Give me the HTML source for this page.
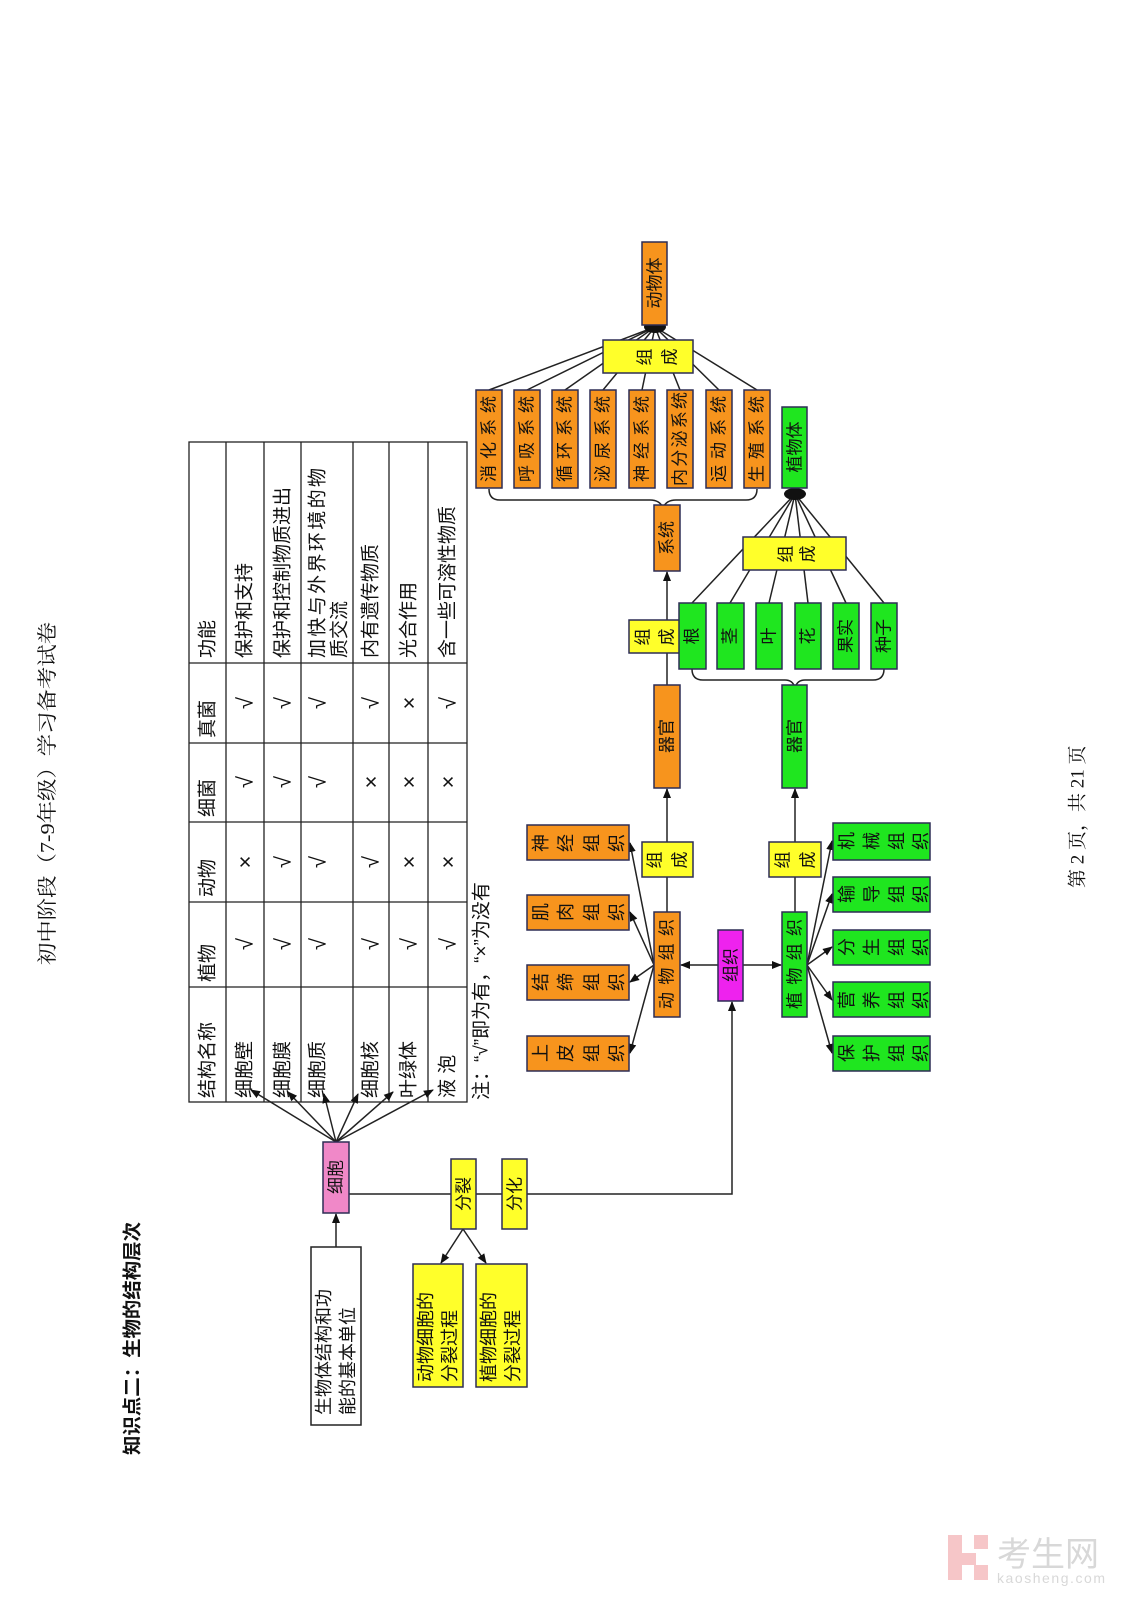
<!DOCTYPE html>
<html><head><meta charset="utf-8">
<style>
html,body{margin:0;padding:0;background:#fff;}
svg{display:block;}
text{font-family:"Liberation Sans","Noto Sans CJK SC",sans-serif;fill:#111;}
.s{font-family:"Liberation Serif","Noto Serif CJK SC",serif;}
</style></head>
<body>
<svg width="1131" height="1600" viewBox="0 0 1131 1600" xmlns="http://www.w3.org/2000/svg">
<defs>
<marker id="a" markerWidth="10" markerHeight="10" refX="9" refY="5" orient="auto" markerUnits="userSpaceOnUse">
<path d="M0,1 L10,5 L0,9 z" fill="#111"/>
</marker>
</defs>

<text class="s" font-size="20" transform="translate(48,965) rotate(-90)" dominant-baseline="central" textLength="343" lengthAdjust="spacingAndGlyphs">初中阶段（7-9年级）学习备考试卷</text>
<text font-size="19" font-weight="bold" transform="translate(133,1455) rotate(-90)" dominant-baseline="central" textLength="233" lengthAdjust="spacingAndGlyphs">知识点二：生物的结构层次</text>
<text class="s" font-size="19" transform="translate(1078,888) rotate(-90)" dominant-baseline="central">第 2 页，共 21 页</text>

<g stroke="#222" stroke-width="1.3" fill="none">
<rect x="189" y="442" width="278" height="660"/>
<line x1="226" y1="442" x2="226" y2="1102"/>
<line x1="264" y1="442" x2="264" y2="1102"/>
<line x1="301" y1="442" x2="301" y2="1102"/>
<line x1="353" y1="442" x2="353" y2="1102"/>
<line x1="389" y1="442" x2="389" y2="1102"/>
<line x1="428" y1="442" x2="428" y2="1102"/>
<line x1="189" y1="663" x2="467" y2="663"/>
<line x1="189" y1="743" x2="467" y2="743"/>
<line x1="189" y1="822" x2="467" y2="822"/>
<line x1="189" y1="902" x2="467" y2="902"/>
<line x1="189" y1="987" x2="467" y2="987"/>
</g>
<g font-size="19" dominant-baseline="central">
<text transform="translate(208,1098) rotate(-90)">结构名称</text>
<text transform="translate(208,982) rotate(-90)">植物</text>
<text transform="translate(208,897) rotate(-90)">动物</text>
<text transform="translate(208,817) rotate(-90)">细菌</text>
<text transform="translate(208,738) rotate(-90)">真菌</text>
<text transform="translate(208,658) rotate(-90)">功能</text>
<text transform="translate(245,1098) rotate(-90)">细胞壁</text>
<text transform="translate(283,1098) rotate(-90)">细胞膜</text>
<text transform="translate(318,1098) rotate(-90)">细胞质</text>
<text transform="translate(371,1098) rotate(-90)">细胞核</text>
<text transform="translate(409,1098) rotate(-90)">叶绿体</text>
<text transform="translate(448,1098) rotate(-90)">液 泡</text>
<text transform="translate(245,658) rotate(-90)">保护和支持</text>
<text transform="translate(283,658) rotate(-90)">保护和控制物质进出</text>
<text transform="translate(318,658) rotate(-90)" textLength="190" lengthAdjust="spacing">加快与外界环境的物</text>
<text transform="translate(340,658) rotate(-90)">质交流</text>
<text transform="translate(371,658) rotate(-90)">内有遗传物质</text>
<text transform="translate(409,658) rotate(-90)">光合作用</text>
<text transform="translate(448,658) rotate(-90)">含一些可溶性物质</text>
</g>
<g font-size="22" text-anchor="middle" dominant-baseline="central">
<text transform="translate(245,944) rotate(-90)">√</text>
<text transform="translate(283,944) rotate(-90)">√</text>
<text transform="translate(318,944) rotate(-90)">√</text>
<text transform="translate(371,944) rotate(-90)">√</text>
<text transform="translate(409,944) rotate(-90)">√</text>
<text transform="translate(448,944) rotate(-90)">√</text>
<text transform="translate(245,862) rotate(-90)">×</text>
<text transform="translate(283,862) rotate(-90)">√</text>
<text transform="translate(318,862) rotate(-90)">√</text>
<text transform="translate(371,862) rotate(-90)">√</text>
<text transform="translate(409,862) rotate(-90)">×</text>
<text transform="translate(448,862) rotate(-90)">×</text>
<text transform="translate(245,782) rotate(-90)">√</text>
<text transform="translate(283,782) rotate(-90)">√</text>
<text transform="translate(318,782) rotate(-90)">√</text>
<text transform="translate(371,782) rotate(-90)">×</text>
<text transform="translate(409,782) rotate(-90)">×</text>
<text transform="translate(448,782) rotate(-90)">×</text>
<text transform="translate(245,703) rotate(-90)">√</text>
<text transform="translate(283,703) rotate(-90)">√</text>
<text transform="translate(318,703) rotate(-90)">√</text>
<text transform="translate(371,703) rotate(-90)">√</text>
<text transform="translate(409,703) rotate(-90)">×</text>
<text transform="translate(448,703) rotate(-90)">√</text>
</g>
<text font-size="19" transform="translate(482,1100) rotate(-90)" dominant-baseline="central">注：“√”即为有，“×”为没有</text>

<g stroke="#222" stroke-width="1.5" fill="none">
<line x1="336" y1="1142" x2="251" y2="1090" marker-end="url(#a)"/>
<line x1="336" y1="1142" x2="288" y2="1092" marker-end="url(#a)"/>
<line x1="336" y1="1142" x2="324" y2="1094" marker-end="url(#a)"/>
<line x1="336" y1="1142" x2="358" y2="1094" marker-end="url(#a)"/>
<line x1="336" y1="1142" x2="393" y2="1092" marker-end="url(#a)"/>
<line x1="336" y1="1142" x2="433" y2="1090" marker-end="url(#a)"/>
<line x1="336" y1="1247" x2="336" y2="1214" marker-end="url(#a)"/>
<polyline points="349,1194 732,1194 732,1002" marker-end="url(#a)"/>
<line x1="463" y1="1229" x2="441" y2="1263" marker-end="url(#a)"/>
<line x1="463" y1="1229" x2="486" y2="1263" marker-end="url(#a)"/>
<line x1="718" y1="965" x2="681" y2="965" marker-end="url(#a)"/>
<line x1="743" y1="965" x2="781" y2="965" marker-end="url(#a)"/>
<line x1="654" y1="965" x2="630" y2="843" marker-end="url(#a)"/>
<line x1="654" y1="965" x2="630" y2="912" marker-end="url(#a)"/>
<line x1="654" y1="965" x2="630" y2="982" marker-end="url(#a)"/>
<line x1="654" y1="965" x2="630" y2="1053" marker-end="url(#a)"/>
<line x1="807" y1="965" x2="832" y2="841" marker-end="url(#a)"/>
<line x1="807" y1="965" x2="832" y2="894" marker-end="url(#a)"/>
<line x1="807" y1="965" x2="832" y2="947" marker-end="url(#a)"/>
<line x1="807" y1="965" x2="832" y2="1000" marker-end="url(#a)"/>
<line x1="807" y1="965" x2="832" y2="1053" marker-end="url(#a)"/>
<line x1="667" y1="912" x2="667" y2="789" marker-end="url(#a)"/>
<line x1="795" y1="912" x2="795" y2="789" marker-end="url(#a)"/>
<line x1="667" y1="685" x2="667" y2="572" marker-end="url(#a)"/>
<line x1="489" y1="390" x2="655" y2="327"/>
<line x1="527" y1="390" x2="655" y2="327"/>
<line x1="565" y1="390" x2="655" y2="327"/>
<line x1="603" y1="390" x2="655" y2="327"/>
<line x1="642" y1="390" x2="655" y2="327"/>
<line x1="680" y1="390" x2="655" y2="327"/>
<line x1="719" y1="390" x2="655" y2="327"/>
<line x1="757" y1="390" x2="655" y2="327"/>
<line x1="692" y1="603" x2="795" y2="494"/>
<line x1="730" y1="603" x2="795" y2="494"/>
<line x1="769" y1="603" x2="795" y2="494"/>
<line x1="808" y1="603" x2="795" y2="494"/>
<line x1="846" y1="603" x2="795" y2="494"/>
<line x1="884" y1="603" x2="795" y2="494"/>
<path d="M489,489 Q489,500 500,500 L650,500 Q660,500 663,508 Q666,500 676,500 L746,500 Q757,500 757,489"/>
<path d="M692,669 Q692,680 703,680 L785,680 Q793,680 795,688 Q797,680 805,680 L873,680 Q884,680 884,669"/>
</g>
<ellipse cx="655" cy="327" rx="11" ry="6" fill="#111"/>
<ellipse cx="795" cy="494" rx="11" ry="6" fill="#111"/>

<g stroke="#2d2d55" stroke-width="1.5">
<rect x="642" y="242" width="25" height="83" fill="#f7941d"/>
<rect x="603" y="340" width="90" height="33" fill="#ffff2a"/>
<rect x="476" y="390" width="26" height="98" fill="#f7941d"/>
<rect x="514" y="390" width="26" height="98" fill="#f7941d"/>
<rect x="552" y="390" width="26" height="98" fill="#f7941d"/>
<rect x="590" y="390" width="26" height="98" fill="#f7941d"/>
<rect x="629" y="390" width="26" height="98" fill="#f7941d"/>
<rect x="667" y="390" width="26" height="98" fill="#f7941d"/>
<rect x="706" y="390" width="26" height="98" fill="#f7941d"/>
<rect x="744" y="390" width="26" height="98" fill="#f7941d"/>
<rect x="782" y="407" width="25" height="81" fill="#1fe61f"/>
<rect x="654" y="505" width="26" height="66" fill="#f7941d"/>
<rect x="743" y="537" width="103" height="33" fill="#ffff2a"/>
<rect x="629" y="620" width="51" height="33" fill="#ffff2a"/>
<rect x="679" y="603" width="27" height="66" fill="#1fe61f"/>
<rect x="717" y="603" width="27" height="66" fill="#1fe61f"/>
<rect x="756" y="603" width="26" height="66" fill="#1fe61f"/>
<rect x="795" y="603" width="26" height="66" fill="#1fe61f"/>
<rect x="833" y="603" width="26" height="66" fill="#1fe61f"/>
<rect x="871" y="603" width="26" height="66" fill="#1fe61f"/>
<rect x="654" y="685" width="26" height="103" fill="#f7941d"/>
<rect x="782" y="685" width="25" height="103" fill="#1fe61f"/>
<rect x="642" y="842" width="51" height="35" fill="#ffff2a"/>
<rect x="769" y="842" width="52" height="35" fill="#ffff2a"/>
<rect x="527" y="825" width="102" height="35" fill="#f7941d"/>
<rect x="527" y="895" width="102" height="35" fill="#f7941d"/>
<rect x="527" y="965" width="102" height="35" fill="#f7941d"/>
<rect x="527" y="1036" width="102" height="35" fill="#f7941d"/>
<rect x="654" y="912" width="26" height="105" fill="#f7941d"/>
<rect x="718" y="930" width="25" height="71" fill="#ee22ee"/>
<rect x="782" y="912" width="25" height="105" fill="#1fe61f"/>
<rect x="833" y="823" width="97" height="37" fill="#1fe61f"/>
<rect x="833" y="877" width="97" height="35" fill="#1fe61f"/>
<rect x="833" y="930" width="97" height="35" fill="#1fe61f"/>
<rect x="833" y="982" width="97" height="35" fill="#1fe61f"/>
<rect x="833" y="1036" width="97" height="35" fill="#1fe61f"/>
<rect x="323" y="1142" width="26" height="71" fill="#f088c8"/>
<rect x="451" y="1159" width="25" height="70" fill="#ffff2a"/>
<rect x="502" y="1159" width="25" height="70" fill="#ffff2a"/>
<rect x="311" y="1247" width="50" height="178" fill="#fff" stroke="#222"/>
<rect x="413" y="1264" width="50" height="123" fill="#ffff2a"/>
<rect x="476" y="1264" width="51" height="123" fill="#ffff2a"/>
</g>

<g font-size="17" text-anchor="middle" dominant-baseline="central">
<text transform="translate(655,283) rotate(-90)">动物体</text>
<text transform="translate(489,439) rotate(-90)" textLength="86" lengthAdjust="spacing">消化系统</text>
<text transform="translate(527,439) rotate(-90)" textLength="86" lengthAdjust="spacing">呼吸系统</text>
<text transform="translate(565,439) rotate(-90)" textLength="86" lengthAdjust="spacing">循环系统</text>
<text transform="translate(603,439) rotate(-90)" textLength="86" lengthAdjust="spacing">泌尿系统</text>
<text transform="translate(642,439) rotate(-90)" textLength="86" lengthAdjust="spacing">神经系统</text>
<text transform="translate(680,439) rotate(-90)" textLength="94" lengthAdjust="spacing">内分泌系统</text>
<text transform="translate(719,439) rotate(-90)" textLength="86" lengthAdjust="spacing">运动系统</text>
<text transform="translate(757,439) rotate(-90)" textLength="86" lengthAdjust="spacing">生殖系统</text>
<text transform="translate(795,447) rotate(-90)">植物体</text>
<text transform="translate(667,538) rotate(-90)">系统</text>
<text transform="translate(692,636) rotate(-90)">根</text>
<text transform="translate(730,636) rotate(-90)">茎</text>
<text transform="translate(769,636) rotate(-90)">叶</text>
<text transform="translate(808,636) rotate(-90)">花</text>
<text transform="translate(846,636) rotate(-90)">果实</text>
<text transform="translate(884,636) rotate(-90)">种子</text>
<text transform="translate(667,736) rotate(-90)">器官</text>
<text transform="translate(795,736) rotate(-90)">器官</text>
<text transform="translate(667,964) rotate(-90)" textLength="90" lengthAdjust="spacing">动物组织</text>
<text transform="translate(731,965) rotate(-90)">组织</text>
<text transform="translate(795,964) rotate(-90)" textLength="90" lengthAdjust="spacing">植物组织</text>
<text transform="translate(336,1177) rotate(-90)">细胞</text>
<text transform="translate(464,1194) rotate(-90)">分裂</text>
<text transform="translate(515,1194) rotate(-90)">分化</text>
<text font-size="18" transform="translate(324,1415) rotate(-90)" text-anchor="start">生物体结构和功</text>
<text font-size="18" transform="translate(348,1415) rotate(-90)" text-anchor="start">能的基本单位</text>
<text font-size="18" transform="translate(426,1382) rotate(-90)" text-anchor="start">动物细胞的</text>
<text font-size="18" transform="translate(450,1382) rotate(-90)" text-anchor="start">分裂过程</text>
<text font-size="18" transform="translate(489,1382) rotate(-90)" text-anchor="start">植物细胞的</text>
<text font-size="18" transform="translate(513,1382) rotate(-90)" text-anchor="start">分裂过程</text>
<text transform="translate(645,357) rotate(-90)">组</text>
<text transform="translate(670,357) rotate(-90)">成</text>
<text transform="translate(786,554) rotate(-90)">组</text>
<text transform="translate(808,554) rotate(-90)">成</text>
<text transform="translate(643,637) rotate(-90)">组</text>
<text transform="translate(667,637) rotate(-90)">成</text>
<text transform="translate(655,860) rotate(-90)">组</text>
<text transform="translate(680,860) rotate(-90)">成</text>
<text transform="translate(783,860) rotate(-90)">组</text>
<text transform="translate(808,860) rotate(-90)">成</text>
</g>
<g font-size="18" text-anchor="middle" dominant-baseline="central">
<text transform="translate(541,843) rotate(-90)">神</text><text transform="translate(566,843) rotate(-90)">经</text><text transform="translate(592,843) rotate(-90)">组</text><text transform="translate(617,843) rotate(-90)">织</text>
<text transform="translate(541,912) rotate(-90)">肌</text><text transform="translate(566,912) rotate(-90)">肉</text><text transform="translate(592,912) rotate(-90)">组</text><text transform="translate(617,912) rotate(-90)">织</text>
<text transform="translate(541,982) rotate(-90)">结</text><text transform="translate(566,982) rotate(-90)">缔</text><text transform="translate(592,982) rotate(-90)">组</text><text transform="translate(617,982) rotate(-90)">织</text>
<text transform="translate(541,1053) rotate(-90)">上</text><text transform="translate(566,1053) rotate(-90)">皮</text><text transform="translate(592,1053) rotate(-90)">组</text><text transform="translate(617,1053) rotate(-90)">织</text>
<text transform="translate(847,841) rotate(-90)">机</text><text transform="translate(872,841) rotate(-90)">械</text><text transform="translate(897,841) rotate(-90)">组</text><text transform="translate(921,841) rotate(-90)">织</text>
<text transform="translate(847,894) rotate(-90)">输</text><text transform="translate(872,894) rotate(-90)">导</text><text transform="translate(897,894) rotate(-90)">组</text><text transform="translate(921,894) rotate(-90)">织</text>
<text transform="translate(847,947) rotate(-90)">分</text><text transform="translate(872,947) rotate(-90)">生</text><text transform="translate(897,947) rotate(-90)">组</text><text transform="translate(921,947) rotate(-90)">织</text>
<text transform="translate(847,1000) rotate(-90)">营</text><text transform="translate(872,1000) rotate(-90)">养</text><text transform="translate(897,1000) rotate(-90)">组</text><text transform="translate(921,1000) rotate(-90)">织</text>
<text transform="translate(847,1053) rotate(-90)">保</text><text transform="translate(872,1053) rotate(-90)">护</text><text transform="translate(897,1053) rotate(-90)">组</text><text transform="translate(921,1053) rotate(-90)">织</text>
</g>

<g fill="#f6c6c8">
<rect x="948" y="1535" width="14" height="45"/>
<rect x="962" y="1553" width="14" height="12"/>
<rect x="974" y="1535" width="14" height="14"/>
<rect x="974" y="1565" width="14" height="15"/>
</g>
<text x="997" y="1566" font-size="34" style="fill:#d8d8d8">考生网</text>
<text x="997" y="1583" font-size="14" style="fill:#d8d8d8" textLength="108" lengthAdjust="spacing">kaosheng.com</text>
</svg>
</body></html>
